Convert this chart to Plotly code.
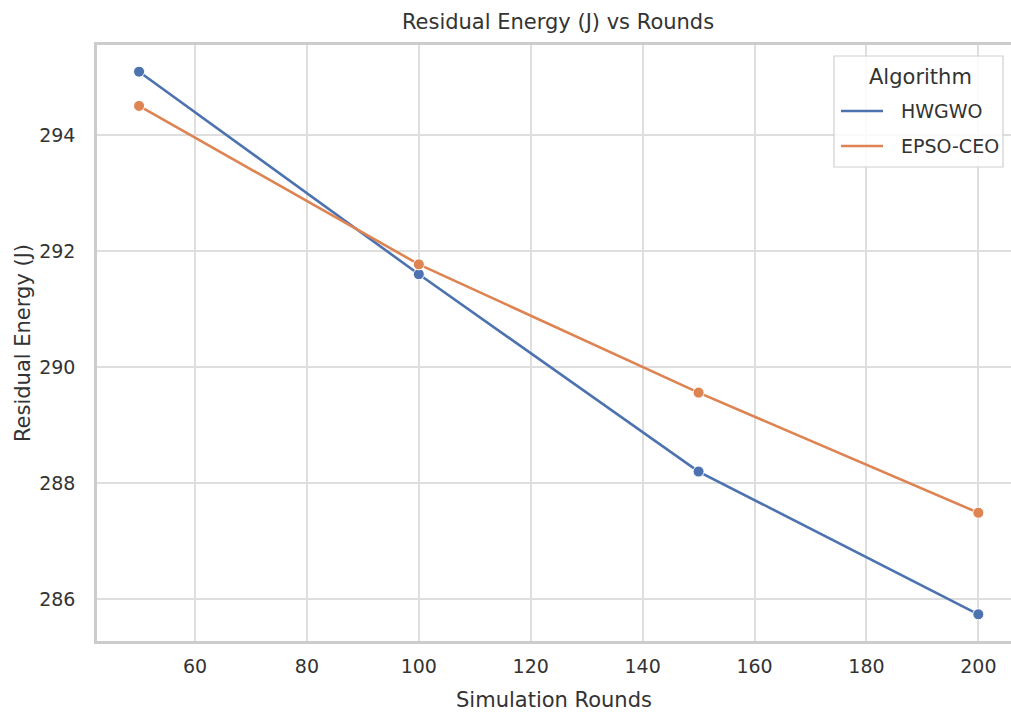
import plotly.graph_objects as go

rounds = [50, 100, 150, 200]
hwgwo = [295.09, 291.60, 288.20, 285.74]
epso_ceo = [294.50, 291.77, 289.56, 287.49]
series_names = ["HWGWO", "EPSO-CEO"]
colors = ["#4C72B0", "#DD8452"]
x_ticks = [60, 80, 100, 120, 140, 160, 180, 200]
y_ticks = [286, 288, 290, 292, 294]

FONT = "DejaVu Sans"
TXT = "#333333"

fig = go.Figure()
for name, vals, col in zip(series_names, [hwgwo, epso_ceo], colors):
    fig.add_trace(go.Scatter(
        x=rounds, y=vals, name=name, mode="lines+markers",
        line=dict(color=col, width=2.6),
        marker=dict(size=11, color=col, line=dict(color="white", width=1)),
        showlegend=False,
    ))

W, H = 1011, 715
L, T, B = 97, 45, 641
fig.update_layout(
    width=W, height=H,
    margin=dict(l=L, r=0, t=T, b=H - B, pad=0),
    plot_bgcolor="white", paper_bgcolor="white",
    font=dict(family=FONT, size=19, color=TXT),
    title=dict(text="Residual Energy (J) vs Rounds", x=(558 - L) / (W - L), xref="paper",
               xanchor="center", y=1 - 22 / H, yanchor="middle",
               font=dict(size=21, color=TXT, family=FONT)),
    showlegend=False,
)

fig.update_xaxes(
    range=[42.48, 205.84], tickvals=x_ticks, ticktext=[str(v) for v in x_ticks],
    showgrid=True, gridcolor="#dedede", gridwidth=1.8,
    showline=True, linecolor="#cccccc", linewidth=2.5, mirror=True,
    ticks="outside", ticklen=6, tickcolor="rgba(0,0,0,0)",
    tickfont=dict(size=19, color=TXT, family=FONT),
    title=dict(text="Simulation Rounds", font=dict(size=21, color=TXT, family=FONT), standoff=17),
    zeroline=False,
)
fig.update_yaxes(
    range=[285.28, 295.55], tickvals=y_ticks, ticktext=[str(v) for v in y_ticks],
    showgrid=True, gridcolor="#dedede", gridwidth=1.8,
    showline=True, linecolor="#cccccc", linewidth=2.5, mirror=False,
    ticks="outside", ticklen=15, tickcolor="rgba(0,0,0,0)",
    tickfont=dict(size=19, color=TXT, family=FONT),
    title=dict(text="Residual Energy (J)", font=dict(size=21, color=TXT, family=FONT), standoff=3),
    zeroline=False,
)

# Manual legend (pixel positioning converted to paper coords)
def px(xp):
    return (xp - L) / (W - L)

def py(yp):
    return (B - yp) / (B - T)

fig.add_shape(type="rect", xref="paper", yref="paper",
              x0=px(834), x1=px(1003), y0=py(167), y1=py(56),
              line=dict(color="#d0d0d0", width=1.2), fillcolor="rgba(255,255,255,0.85)",
              layer="above")
fig.add_annotation(text="Algorithm", xref="paper", yref="paper", x=px(920), y=py(77),
                   xanchor="center", yanchor="middle", showarrow=False,
                   font=dict(size=21, color=TXT, family=FONT))
for i, (name, col) in enumerate(zip(series_names, colors)):
    yc = 111 + i * 35
    fig.add_shape(type="line", xref="paper", yref="paper",
                  x0=px(841), x1=px(883), y0=py(yc), y1=py(yc),
                  line=dict(color=col, width=2.6), layer="above")
    fig.add_annotation(text=name, xref="paper", yref="paper", x=px(899), y=py(yc),
                       xanchor="left", yanchor="middle", showarrow=False,
                       font=dict(size=19, color=TXT, family=FONT))

fig.write_html("out.html")
